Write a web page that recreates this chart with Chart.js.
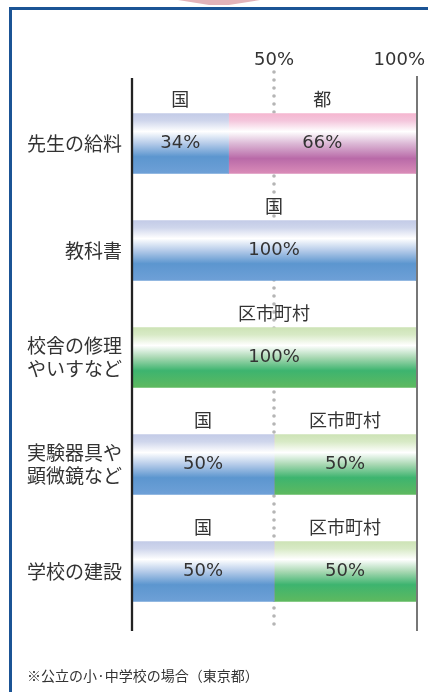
<!DOCTYPE html>
<html>
<head>
<meta charset="utf-8">
<script src="https://cdn.jsdelivr.net/npm/chart.js@4"></script>
<style>
  html, body { margin: 0; padding: 0; background: #fff; }
  #wrap { position: relative; width: 428px; height: 692px; overflow: hidden; }
  #frame { position: absolute; left: 9px; top: 7px; width: 600px; height: 900px;
           border-top: 3.5px solid #1b5495; border-left: 3.5px solid #1b5495; }
  #tip { position: absolute; left: 178px; top: 0; width: 82px; height: 5px; background: #e3b3b9;
         clip-path: polygon(0 0, 100% 0, 62% 100%, 38% 100%); }
  #note { position: absolute; left: 27px; top: 665px; font: 14px "Noto Sans CJK JP", sans-serif; color: #333; }
  canvas { position: absolute; left: 0; top: 0; }
</style>
</head>
<body>
<div id="wrap">
  <div id="frame"></div>
  <div id="tip"></div>
  <canvas id="myChart" width="428" height="692"></canvas>
  <div id="note">※公立の小·中学校の場合（東京都）</div>
</div>
<script>
var categories = ['先生の給料', '教科書', ['校舎の修理', 'やいすなど'], ['実験器具や', '顕微鏡など'], '学校の建設'];
var seriesNames = ['国', '都', '区市町村'];
var kuni = [34, 100, 0, 50, 50];
var to = [66, 0, 0, 0, 0];
var kushichoson = [0, 0, 100, 50, 50];
var xTicks = [50, 100];

var blueStops = [[0, '#c3cbe7'], [0.12, '#cfd6ec'], [0.3, '#ffffff'], [0.5, '#b5cbe9'], [0.72, '#5c96cf'], [1, '#6ea0d7']];
var pinkStops = [[0, '#f5b6d0'], [0.12, '#f4c6dc'], [0.3, '#ffffff'], [0.5, '#dcb9d6'], [0.75, '#b96aa8'], [1, '#da8cb8']];
var greenStops = [[0, '#cde3b6'], [0.12, '#d8eac6'], [0.3, '#ffffff'], [0.5, '#a9d8b3'], [0.72, '#3db46f'], [1, '#5eb95f']];

function barGradient(stops) {
  return function (c) {
    var chart = c.chart;
    var y = chart.scales.y;
    if (!y || c.type !== 'data') return stops[4][1];
    var cy = y.getPixelForValue(c.dataIndex);
    if (!isFinite(cy)) return stops[4][1];
    var g = chart.ctx.createLinearGradient(0, cy - 30, 0, cy + 30);
    stops.forEach(function (s) { g.addColorStop(s[0], s[1]); });
    return g;
  };
}

// dotted 50% line, right frame line and the top tick labels
var axisLines = {
  id: 'axisLines',
  beforeDatasetsDraw: function (chart) {
    var ctx = chart.ctx, x = chart.scales.x;
    var x50 = x.getPixelForValue(50), x100 = x.getPixelForValue(100);
    ctx.save();
    ctx.fillStyle = '#b5b5b5';
    for (var yy = 72; yy <= 629; yy += 8) {
      ctx.beginPath(); ctx.arc(x50, yy, 1.8, 0, Math.PI * 2); ctx.fill();
    }
    ctx.lineWidth = 2; ctx.strokeStyle = '#777';
    ctx.beginPath(); ctx.moveTo(x100 + 1, 76); ctx.lineTo(x100 + 1, 631); ctx.stroke();

    ctx.font = '18px "DejaVu Sans", sans-serif';
    ctx.fillStyle = '#333'; ctx.textBaseline = 'middle'; ctx.textAlign = 'center';
    xTicks.forEach(function (v) {
      var px = x.getPixelForValue(v);
      var label = v + '%';
      var w = ctx.measureText(label).width;
      if (px + w / 2 > chart.width - 3) px = chart.width - 3 - w / 2;
      ctx.fillText(label, px, 60);
    });
    ctx.restore();
  },
  afterDatasetsDraw: function (chart) {
    var ctx = chart.ctx, x0 = chart.scales.x.getPixelForValue(0);
    ctx.save();
    ctx.lineWidth = 2.3; ctx.strokeStyle = '#222';
    ctx.beginPath(); ctx.moveTo(x0, 78); ctx.lineTo(x0, 631); ctx.stroke();
    ctx.restore();
  }
};

// value in each bar, series name above it
var barLabels = {
  id: 'barLabels',
  afterDatasetsDraw: function (chart) {
    var ctx = chart.ctx;
    ctx.save();
    ctx.fillStyle = '#333'; ctx.textAlign = 'center'; ctx.textBaseline = 'middle';
    chart.data.datasets.forEach(function (ds, i) {
      chart.getDatasetMeta(i).data.forEach(function (bar, j) {
        var v = ds.data[j];
        if (!v) return;
        var cx = (bar.base + bar.x) / 2;
        ctx.font = '18px "DejaVu Sans", sans-serif';
        ctx.fillText(v + '%', cx, bar.y);
        ctx.font = '18px "Noto Sans CJK JP", sans-serif';
        ctx.fillText(ds.label, cx, bar.y - bar.height / 2 - 14);
      });
    });
    ctx.restore();
  }
};

var ctx = document.getElementById('myChart').getContext('2d');
var chart = new Chart(ctx, {
  type: 'bar',
  data: {
    labels: categories,
    datasets: [
      { label: seriesNames[0], data: kuni, backgroundColor: barGradient(blueStops) },
      { label: seriesNames[1], data: to, backgroundColor: barGradient(pinkStops) },
      { label: seriesNames[2], data: kushichoson, backgroundColor: barGradient(greenStops) }
    ]
  },
  options: {
    indexAxis: 'y',
    responsive: false,
    animation: false,
    barThickness: 60,
    borderWidth: 0,
    layout: { padding: { top: 90, bottom: 67, right: 12, left: 0 } },
    plugins: { legend: { display: false }, tooltip: { enabled: false } },
    scales: {
      x: { stacked: true, min: 0, max: 100, display: false },
      y: {
        stacked: true,
        grid: { display: false, drawTicks: false },
        border: { display: false },
        afterFit: function (scale) { scale.width = 132; },
        ticks: {
          padding: 10,
          color: '#333',
          font: { family: '"Noto Sans CJK JP", sans-serif', size: 19, lineHeight: 1.2 }
        }
      }
    }
  },
  plugins: [axisLines, barLabels]
});
</script>
</body>
</html>
